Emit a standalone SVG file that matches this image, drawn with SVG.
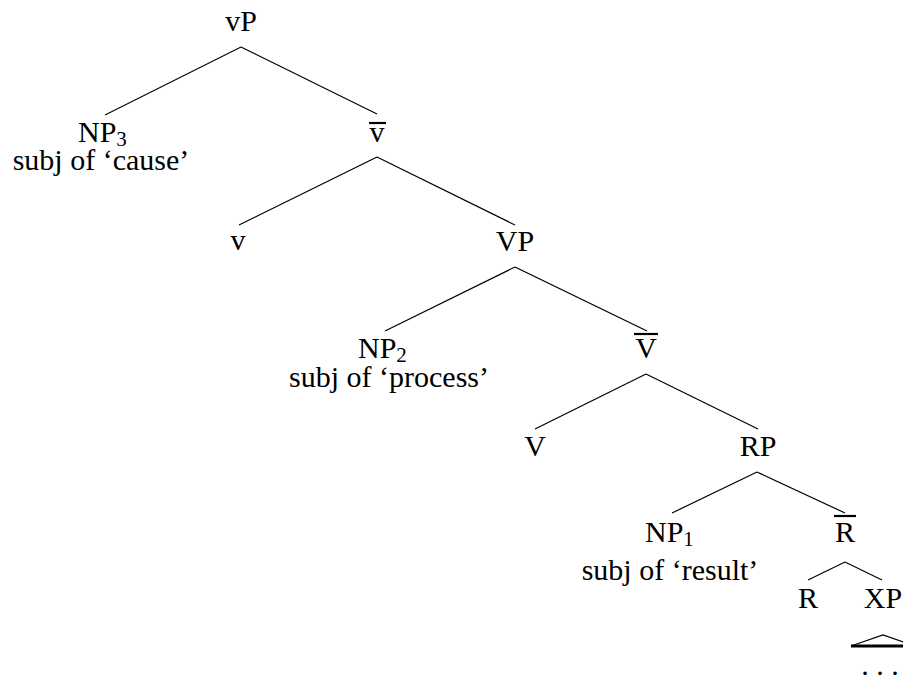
<svg xmlns="http://www.w3.org/2000/svg" width="903" height="680" viewBox="0 0 903 680">
<style>
text{font-family:'Liberation Serif','Times New Roman',serif;font-size:30px;fill:#000}
.m{text-anchor:middle}
.sub{font-size:21px}
.e{stroke:#000;stroke-width:1.2;fill:none}
.bar{stroke:#000;stroke-width:2.2}
</style>
<rect width="903" height="680" fill="#fff"/>
<g id="connectors">
<line class="e" x1="241" y1="47" x2="105" y2="115"/>
<line class="e" x1="241" y1="47" x2="377" y2="114"/>
<line class="e" x1="377" y1="157" x2="239" y2="225"/>
<line class="e" x1="377" y1="157" x2="515" y2="225"/>
<line class="e" x1="515" y1="267" x2="385" y2="331"/>
<line class="e" x1="515" y1="267" x2="647" y2="331"/>
<line class="e" x1="646" y1="374" x2="535" y2="429"/>
<line class="e" x1="646" y1="374" x2="758" y2="429"/>
<line class="e" x1="757" y1="472" x2="672" y2="513"/>
<line class="e" x1="757" y1="472" x2="845" y2="513"/>
<line class="e" x1="845" y1="562" x2="808" y2="580"/>
<line class="e" x1="845" y1="562" x2="882" y2="580"/>
<polyline class="e" points="851,646 883,635 915,646"/>
<line x1="851" y1="646" x2="915" y2="646" stroke="#000" stroke-width="3"/>
</g>
<g font-family="Liberation Serif, serif">
<g id="vP"><text class="m" x="241" y="31">vP</text></g>
<g id="NP3"><text x="78" y="142">NP<tspan class="sub" dy="4">3</tspan></text>
<text class="m" x="101" y="170">subj of ‘cause’</text></g>
<g id="vbar"><line class="bar" x1="369" y1="123" x2="386" y2="123"/><text class="m" x="377" y="142">v</text></g>
<g id="v"><text class="m" x="238" y="250">v</text></g>
<g id="VP"><text class="m" x="515" y="251">VP</text></g>
<g id="NP2"><text x="358" y="358">NP<tspan class="sub" dy="4">2</tspan></text>
<text class="m" x="389" y="387">subj of ‘process’</text></g>
<g id="Vbar"><line class="bar" x1="634" y1="334" x2="658" y2="334"/><text class="m" x="646" y="358">V</text></g>
<g id="V"><text class="m" x="535" y="456">V</text></g>
<g id="RP"><text class="m" x="758" y="456">RP</text></g>
<g id="NP1"><text x="645" y="542">NP<tspan class="sub" dy="4">1</tspan></text>
<text class="m" x="670" y="580">subj of ‘result’</text></g>
<g id="Rbar"><line class="bar" x1="834" y1="516" x2="856" y2="516"/><text class="m" x="845" y="542">R</text></g>
<g id="R"><text class="m" x="808" y="608">R</text></g>
<g id="XP"><text class="m" x="883" y="608">XP</text></g>
<g id="dots"><text class="m" x="880" y="675">. . .</text></g>
</g>
</svg>
